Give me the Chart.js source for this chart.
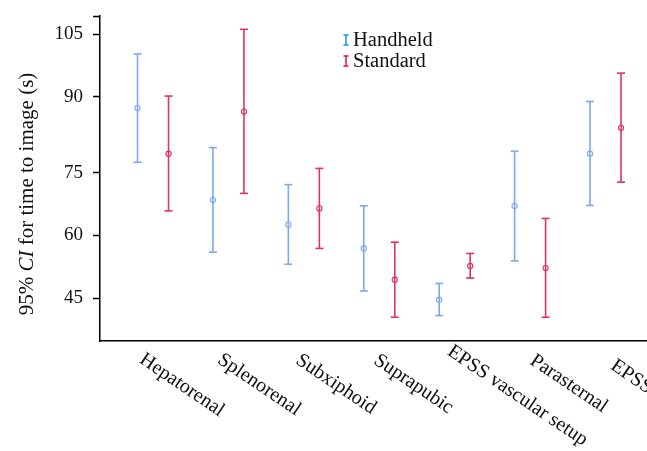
<!DOCTYPE html>
<html>
<head>
<meta charset="utf-8">
<script src="https://cdn.jsdelivr.net/npm/chart.js@4.4.1/dist/chart.umd.min.js"></script>
<style>
  html, body { margin: 0; padding: 0; background: #fff; overflow: hidden; }
  canvas { display: block; }
</style>
</head>
<body>
<canvas id="c" width="647" height="451" style="width:647px;height:451px"></canvas>
<script>
// ---- data ----
const categories = ['Hepatorenal', 'Splenorenal', 'Subxiphoid', 'Suprapubic', 'EPSS vascular setup', 'Parasternal', 'EPSS'];
const seriesNames = ['Handheld', 'Standard'];
const handheldMean = [87.8, 68.5, 62.6, 56.9, 44.6, 67.1, 78.8];
const handheldLow  = [77.1, 56.0, 53.1, 46.7, 40.8, 53.9, 67.2];
const handheldHigh = [100.3, 80.0, 72.2, 67.1, 48.5, 79.3, 89.1];
const standardMean = [78.8, 87.1, 66.5, 49.4, 52.7, 52.2, 83.9];
const standardLow  = [65.9, 70.1, 56.9, 40.4, 49.8, 40.4, 72.8];
const standardHigh = [90.2, 106.2, 75.9, 58.4, 55.7, 64.1, 95.7];
const yTickValues = [45, 60, 75, 90, 105];
const yTickLabels = ['45', '60', '75', '90', '105'];

// ---- styling / layout ----
const FONT = '"Liberation Serif", "Times New Roman", serif';
const barColors = ['#7fa9ec', '#dd3461'];
const legendColors = ['#1b96e0', '#e3173d'];
const DODGE = 0.2056;
const Y_MIN = 34.7, Y_MAX = 109.4;
// the reference axis has a stretched interval between 75 and 90
const BREAK_LO = 75, BREAK_HI = 90, STRETCH = 1.216;

function warp(v) {
  if (v <= BREAK_LO) return v;
  if (v <= BREAK_HI) return BREAK_LO + (v - BREAK_LO) * STRETCH;
  return BREAK_LO + (BREAK_HI - BREAK_LO) * STRETCH + (v - BREAK_HI);
}
function unwarp(u) {
  const uHi = BREAK_LO + (BREAK_HI - BREAK_LO) * STRETCH;
  if (u <= BREAK_LO) return u;
  if (u <= uHi) return BREAK_LO + (u - BREAK_LO) / STRETCH;
  return BREAK_HI + (u - uHi);
}

class BrokenLinearScale extends Chart.LinearScale {
  configure() {
    super.configure();
    this._startValue = warp(this.min);
    this._endValue = warp(this.max);
    this._valueRange = this._endValue - this._startValue;
  }
  getPixelForValue(value) {
    if (value === null || value === undefined || isNaN(value)) return NaN;
    return this.getPixelForDecimal((warp(value) - this._startValue) / this._valueRange);
  }
  getValueForPixel(pixel) {
    return unwarp(this._startValue + this.getDecimalForPixel(pixel) * this._valueRange);
  }
}
BrokenLinearScale.id = 'brokenLinear';
BrokenLinearScale.defaults = {};
Chart.register(BrokenLinearScale);

function errorData(lo, hi, shift) {
  const out = [];
  categories.forEach((c, i) => {
    out.push({ x: i + shift, y: lo[i] });
    out.push({ x: i + shift, y: hi[i] });
    out.push({ x: i + shift, y: null });
  });
  return out;
}
function meanData(mean, shift) {
  return categories.map((c, i) => ({ x: i + shift, y: mean[i] }));
}

const series = [
  { name: seriesNames[0], mean: handheldMean, lo: handheldLow, hi: handheldHigh, shift: -DODGE },
  { name: seriesNames[1], mean: standardMean, lo: standardLow, hi: standardHigh, shift: DODGE }
];

const datasets = [];
series.forEach((s, k) => {
  datasets.push({
    label: s.name + ' CI',
    data: errorData(s.lo, s.hi, s.shift),
    showLine: true,
    spanGaps: false,
    borderColor: barColors[k],
    borderWidth: 1.6,
    pointStyle: 'line',
    pointRadius: 4,
    pointBorderWidth: 1.6,
    pointBorderColor: barColors[k],
    pointHoverRadius: 4
  });
});
series.forEach((s, k) => {
  datasets.push({
    label: s.name,
    data: meanData(s.mean, s.shift),
    showLine: false,
    pointStyle: 'circle',
    pointRadius: 2.6,
    pointBorderWidth: 1.1,
    pointBorderColor: barColors[k],
    pointBackgroundColor: 'rgba(255,255,255,0)'
  });
});

const labelPlugin = {
  id: 'labels',
  afterDraw(chart) {
    const ctx = chart.ctx;
    const xs = chart.scales.x;
    const area = chart.chartArea;
    ctx.save();
    ctx.fillStyle = '#111';
    // rotated category labels
    ctx.font = '20px ' + FONT;
    categories.forEach((c, i) => {
      const w = ctx.measureText(c).width;
      const sx = xs.getPixelForValue(i) - 7 + 2.6 * i - (w - 97) * 0.06;
      const sy = area.bottom + 10 - (w - 97) * 0.12;
      ctx.save();
      ctx.translate(sx, sy);
      ctx.rotate(34 * Math.PI / 180);
      ctx.textAlign = 'left';
      ctx.textBaseline = 'alphabetic';
      ctx.fillText(c, 0, 13.5);
      ctx.restore();
    });
    // y axis title with italic CI
    const parts = [['95% ', 'normal'], ['CI', 'italic'], [' for time to image (s)', 'normal']];
    const TSIZE = ' 21px ';
    let total = 0;
    parts.forEach(p => { ctx.font = p[1] + TSIZE + FONT; p.push(ctx.measureText(p[0]).width); total += p[2]; });
    ctx.save();
    ctx.translate(27, 194);
    ctx.rotate(-Math.PI / 2);
    ctx.textBaseline = 'middle';
    ctx.textAlign = 'left';
    let x = -total / 2;
    parts.forEach(p => { ctx.font = p[1] + TSIZE + FONT; ctx.fillText(p[0], x, 0); x += p[2]; });
    ctx.restore();
    // legend
    series.forEach((s, k) => {
      const cy = 40 + k * 21;
      const ix = 346;
      ctx.strokeStyle = legendColors[k];
      ctx.lineWidth = 1.5;
      ctx.beginPath();
      ctx.moveTo(ix, cy - 5); ctx.lineTo(ix, cy + 5);
      ctx.moveTo(ix - 2.5, cy - 5); ctx.lineTo(ix + 2.5, cy - 5);
      ctx.moveTo(ix - 2.5, cy + 5); ctx.lineTo(ix + 2.5, cy + 5);
      ctx.stroke();
      ctx.fillStyle = '#111';
      ctx.font = '20.5px ' + FONT;
      ctx.textAlign = 'left';
      ctx.textBaseline = 'middle';
      ctx.fillText(s.name, 353, cy + 1);
    });
    ctx.restore();
  }
};

const chart = new Chart(document.getElementById('c'), {
  type: 'scatter',
  data: { datasets },
  options: {
    responsive: false,
    animation: false,
    events: [],
    devicePixelRatio: 1,
    layout: { autoPadding: false, padding: { top: 16, left: 0, right: 0, bottom: 0 } },
    plugins: { legend: { display: false }, tooltip: { enabled: false } },
    scales: {
      x: {
        type: 'linear',
        min: -0.703,
        max: 6.55,
        ticks: { display: false },
        grid: { display: false },
        border: { display: true, color: '#000', width: 1.5 },
        afterFit(s) { s.height = 110; s.paddingRight = 0; s.paddingLeft = 0; }
      },
      y: {
        type: 'brokenLinear',
        min: Y_MIN,
        max: Y_MAX,
        bounds: 'data',
        afterBuildTicks(s) {
          s.ticks = yTickValues.map(v => ({ value: v })).concat([{ value: Y_MAX }]);
        },
        ticks: {
          color: '#111',
          font: { family: FONT, size: 19 },
          padding: 10,
          callback(value, index) { return index < yTickLabels.length ? yTickLabels[index] : ''; }
        },
        grid: { display: true, drawOnChartArea: false, drawTicks: true, tickLength: 7, tickWidth: 1.5, tickColor: '#000' },
        border: { display: true, color: '#000', width: 1.5 },
        afterFit(s) { s.width = 100; s.paddingTop = 0; s.paddingBottom = 0; }
      }
    }
  },
  plugins: [labelPlugin]
});
</script>
</body>
</html>
